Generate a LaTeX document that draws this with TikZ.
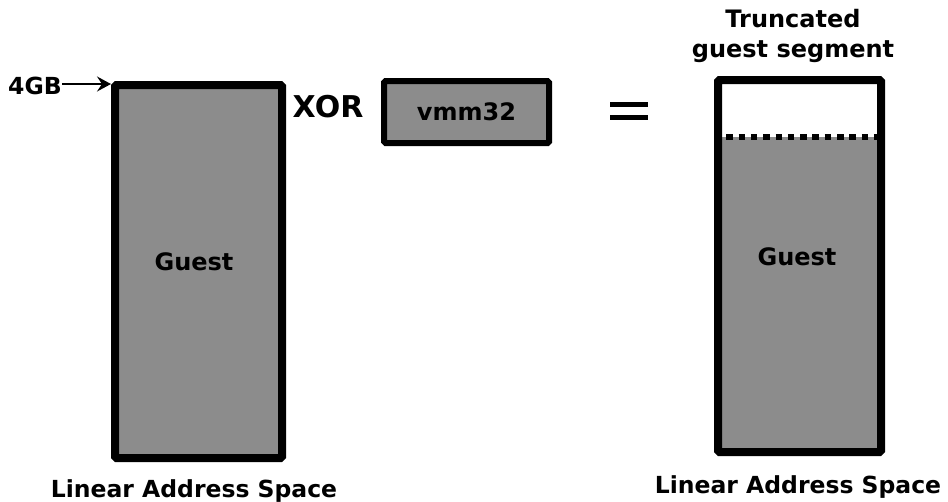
\documentclass[tikz,border=0pt]{standalone}
\usepackage{fontspec}
\setmainfont{DejaVu Sans}
\usetikzlibrary{arrows.meta}
\definecolor{segfill}{HTML}{8C8C8C}
\tikzset{
  seg/.style={draw=black, line width=8pt, fill=segfill, rounded corners=1.5pt, inner sep=0pt},
  lbl/.style={font=\bfseries\fontsize{24}{30}\selectfont, inner sep=0pt},
  baselbl/.style={font=\bfseries\fontsize{23.5}{28}\selectfont, inner sep=0pt, anchor=base},
  biglbl/.style={font=\bfseries\fontsize{30}{34}\selectfont, inner sep=0pt},
}
\begin{document}
\begin{tikzpicture}[x=1pt,y=-1pt]
\useasboundingbox (0,0) rectangle (948,501);

% original guest segment
\node[seg, minimum width=167pt, minimum height=373pt, anchor=north west] (guest) at (111,81) {};
\node[lbl] (guestlbl) at (194,262) {Guest};
\node[lbl, font=\bfseries\fontsize{23.5}{28}\selectfont, anchor=east] (fourgb) at (62,86) {4GB};
\draw[line width=2pt, -{Stealth[length=14pt,width=15pt,inset=5pt]}] (fourgb.east |- 0,84) -- (guest.north west |- 0,84);
\node[baselbl] (lasleft) at (194,497) {Linear Address Space};

% XOR vmm32
\node[biglbl] (xor) at (328,107) {XOR};
\node[seg, line width=6pt, minimum width=165pt, minimum height=62pt, anchor=north west] (vmm) at (381,78) {};
\node[lbl] (vmmlbl) at (vmm.center) {vmm32};

% equals sign
\coordinate (eqa) at (610,104.5);
\coordinate (eqb) at (648,104.5);
\coordinate (eqc) at (610,117.5);
\coordinate (eqd) at (648,117.5);
\draw[line width=5.5pt] (eqa) -- (eqb);
\draw[line width=5.5pt] (eqc) -- (eqd);

% truncated guest segment
\coordinate (tl) at (714,76);
\coordinate (br) at (877,448);
\coordinate (cutl) at (714,137);
\coordinate (cutr) at (877,137);
\fill[segfill] (cutl) rectangle (br);
\draw[line width=6pt, dash pattern=on 6.5pt off 5.8pt] (cutl) -- (cutr);
\node[draw=black, line width=8pt, rounded corners=1.5pt, inner sep=0pt, minimum width=163pt, minimum height=372pt, anchor=north west] (trunc) at (tl) {};
\node[lbl] (guestlblr) at (797,257) {Guest};
\node[lbl, anchor=base] (trunclbla) at (793,27) {Truncated};
\node[lbl, anchor=base] (trunclblb) at (793,57) {guest segment};
\node[baselbl] (lasright) at (798,493) {Linear Address Space};
\end{tikzpicture}
\end{document}
